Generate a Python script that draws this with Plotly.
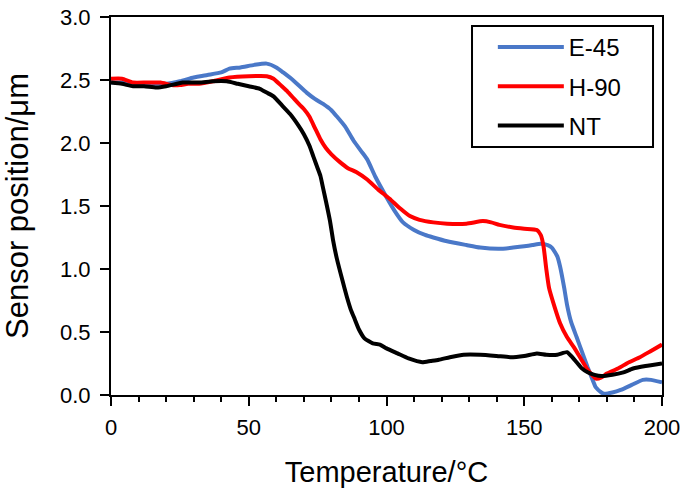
import plotly.graph_objects as go

# ---- data ----
e45_T = [0, 5, 10, 15, 20, 25, 30, 35, 40, 43, 47, 52, 56.5, 60, 62.5, 66, 71, 74, 77, 80,
         82, 85, 88, 91, 93, 96, 100, 103, 106, 110, 114, 117, 122, 129, 134, 141, 146, 150,
         153, 156, 158.5, 160, 162, 163, 164.5, 165.5, 167, 169, 171, 173, 175, 176, 178,
         179, 182, 185, 189, 193, 196, 200]
e45_v = [2.48, 2.48, 2.47, 2.47, 2.47, 2.49, 2.52, 2.54, 2.56, 2.59, 2.60, 2.62, 2.63, 2.60,
         2.56, 2.50, 2.40, 2.35, 2.31, 2.26, 2.21, 2.13, 2.02, 1.93, 1.87, 1.73, 1.57, 1.46,
         1.37, 1.31, 1.27, 1.25, 1.22, 1.19, 1.17, 1.16, 1.17, 1.18, 1.19, 1.20, 1.19, 1.17,
         1.10, 1.02, 0.85, 0.72, 0.58, 0.46, 0.34, 0.22, 0.11, 0.06, 0.02, 0.01, 0.02, 0.04,
         0.08, 0.12, 0.12, 0.10]

h90_T = [0, 4, 8, 13, 18, 22, 25, 28, 32, 37, 43, 50, 56.5, 59, 62, 64, 66.5, 68.6, 70, 72,
         74, 76, 78, 80, 83, 86, 89, 93, 97, 101, 105, 108.5, 112, 117, 122, 129, 135, 138,
         141, 146, 150, 154.6, 156, 157, 158, 159, 161, 163, 165.5, 168, 170.5, 173, 175,
         176, 178, 180, 184, 188, 192, 196, 200]
h90_v = [2.51, 2.51, 2.48, 2.48, 2.48, 2.46, 2.46, 2.47, 2.47, 2.49, 2.52, 2.53, 2.53, 2.51,
         2.45, 2.41, 2.35, 2.30, 2.27, 2.21, 2.12, 2.03, 1.96, 1.91, 1.85, 1.80, 1.77, 1.71,
         1.63, 1.56, 1.48, 1.42, 1.39, 1.37, 1.36, 1.36, 1.38, 1.37, 1.35, 1.33, 1.32, 1.31,
         1.27, 1.18, 1.00, 0.85, 0.70, 0.57, 0.46, 0.38, 0.29, 0.20, 0.15, 0.13, 0.14, 0.17,
         0.21, 0.26, 0.30, 0.35, 0.40]

nt_T = [0, 4, 8, 12, 16.5, 20, 26, 32, 37, 42, 46, 50, 54, 56.5, 59, 62, 65, 68, 70, 72,
        73.5, 75, 76, 77, 78, 79.5, 80.6, 82, 84, 85.6, 87, 88.5, 90, 92, 95, 97.6, 100, 104,
        108, 113, 116, 119, 123, 128, 134, 140, 145, 150, 154.6, 158, 162, 165.5, 167, 169,
        171, 173, 175.5, 178, 182, 186, 189.5, 194, 200]
nt_v = [2.48, 2.47, 2.45, 2.45, 2.44, 2.45, 2.48, 2.48, 2.49, 2.49, 2.47, 2.45, 2.43, 2.40,
        2.37, 2.30, 2.23, 2.14, 2.07, 1.98, 1.89, 1.80, 1.74, 1.64, 1.54, 1.38, 1.23, 1.08,
        0.91, 0.78, 0.68, 0.60, 0.52, 0.45, 0.41, 0.40, 0.37, 0.33, 0.29, 0.26, 0.27, 0.28,
        0.30, 0.32, 0.32, 0.31, 0.30, 0.31, 0.33, 0.32, 0.32, 0.34, 0.31, 0.26, 0.21, 0.18,
        0.16, 0.15, 0.16, 0.18, 0.21, 0.23, 0.25]

series = [
    ("E-45", e45_T, e45_v, "#4a78c8"),
    ("H-90", h90_T, h90_v, "#ff0000"),
    ("NT", nt_T, nt_v, "#000000"),
]

FONT = "Liberation Sans, Arial, sans-serif"

fig = go.Figure()
for name, T, v, col in series:
    fig.add_trace(go.Scatter(
        x=T, y=v, mode="lines", name=name, legendgroup=name,
        line=dict(color=col, width=4, shape="spline", smoothing=0.5),
    ))

# legend frame (decoration)
fig.add_shape(type="rect", xref="paper", yref="paper",
              x0=0.6552, x1=0.9837, y0=0.6561, y1=0.9762,
              line=dict(color="black", width=2), fillcolor="white", layer="above")

fig.update_layout(
    width=685, height=489,
    margin=dict(l=111, r=23, t=17, b=94, autoexpand=False),
    paper_bgcolor="white", plot_bgcolor="white",
    font=dict(family=FONT, color="black", size=22),
    showlegend=True,
    legend=dict(
        x=0.693, y=0.9788, xanchor="left", yanchor="top",
        borderwidth=0, bgcolor="rgba(0,0,0,0)",
        font=dict(family=FONT, size=24, color="black"),
        tracegroupgap=5, itemwidth=66,
    ),
)

fig.update_xaxes(
    range=[0, 200], dtick=50, tick0=0, automargin=False,
    showgrid=False, zeroline=False,
    showline=True, linecolor="black", linewidth=2, mirror=True,
    ticks="outside", ticklen=9, tickwidth=2, tickcolor="black",
    minor=dict(dtick=10, ticks="outside", ticklen=5, tickwidth=2, tickcolor="black", showgrid=False),
    tickfont=dict(family=FONT, size=22), ticklabelstandoff=3,
    title=dict(text="Temperature/°C", font=dict(family=FONT, size=29), standoff=22),
)
fig.update_yaxes(
    range=[0, 3], dtick=0.5, tick0=0, tickformat=".1f", automargin=False,
    showgrid=False, zeroline=False,
    showline=True, linecolor="black", linewidth=2, mirror=True,
    ticks="outside", ticklen=9, tickwidth=2, tickcolor="black",
    tickfont=dict(family=FONT, size=22), ticklabelstandoff=5,
    title=dict(text="Sensor position/μm", font=dict(family=FONT, size=31), standoff=36),
)

fig.write_html("out.html",
               config={"displayModeBar": False},
               post_script="document.body.style.margin='0';")
